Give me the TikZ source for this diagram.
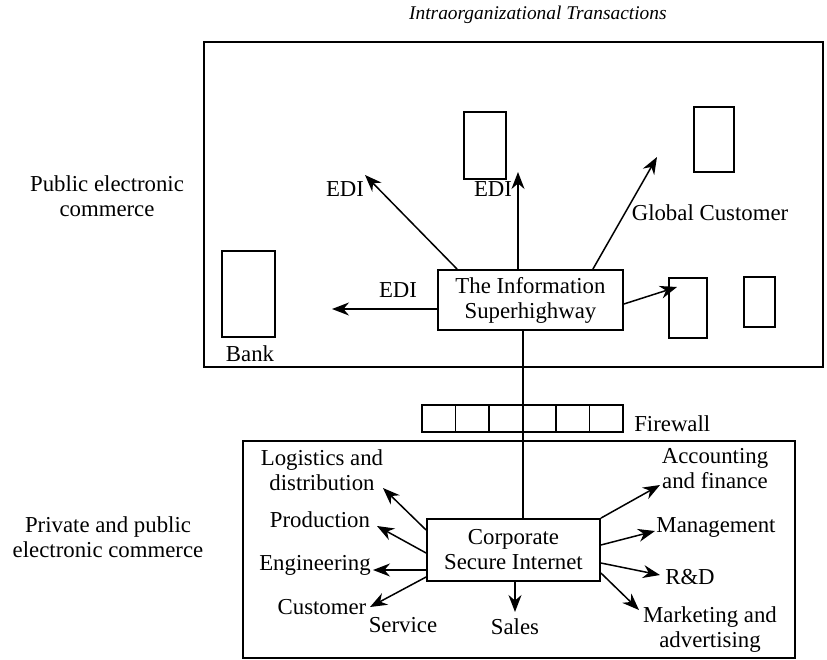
\documentclass[tikz,border=0pt]{standalone}
\usepackage{fontspec}
\setmainfont{Liberation Serif}
\usetikzlibrary{arrows.meta}

\begin{document}
\begin{tikzpicture}[x=.5pt,y=-.5pt,>={Stealth[length=8.5pt,width=6.5pt]},
 every node/.style={font=\fontsize{11.4}{12.5}\selectfont,inner sep=0pt,align=center},
 frame/.style={draw,line width=.9pt},
 site/.style={draw,line width=.9pt},
 box/.style={draw,line width=.9pt,fill=white},
 arr/.style={->,line width=.75pt}]
\useasboundingbox (0,0) rectangle (827,660);
\node[font=\fontsize{9.7}{11}\selectfont\itshape,anchor=east] (title) at (667,15) {Intraorganizational Transactions};
\node[frame,minimum width=309.5pt,minimum height=162.5pt] (pub) at (513.5,204.5) {};
\node (publbl) at (107,196) {Public electronic\\commerce};
\node[site,minimum width=26.5pt,minimum height=43pt] (bank) at (248.5,294) {};
\node (banklbl) at (250,354) {Bank};
\node[site,minimum width=21pt,minimum height=33.5pt] (edisite) at (485,145.5) {};
\node[site,minimum width=20pt,minimum height=32.5pt] (glob) at (714,139.5) {};
\node[site,minimum width=19pt,minimum height=30pt] (site1) at (688,308) {};
\node[site,minimum width=15.5pt,minimum height=25pt] (site2) at (759.5,302) {};
\node[box,minimum width=92.5pt,minimum height=30pt] (hwy) at (530.5,300) {The Information\\Superhighway};
\coordinate (tipl) at (332,309);
\coordinate (tipul) at (365,175);
\coordinate (tipu) at (518,172);
\coordinate (tipur) at (657,157);
\coordinate (tipr) at (677,287);
\node (edil) at (398,290) {EDI};
\node (ediul) at (345,189) {EDI};
\node (ediu) at (493,189) {EDI};
\node (globlbl) at (710,213) {Global Customer};
\draw[arr] (hwy.west |- tipl) -- (tipl);
\draw[arr] ([xshift=10pt]hwy.north west) -- (tipul);
\draw[arr] (hwy.north -| tipu) -- (tipu);
\draw[arr] ([xshift=-15.5pt]hwy.north east) -- (tipur);
\draw[arr] ([yshift=-2pt]hwy.east) -- (tipr);
\foreach \i in {1,...,6}
 \node[site,minimum width=16.75pt,minimum height=13.5pt] (fw\i) at ({422+33.5*(\i-.5)},418.5) {};
\node[anchor=west] (fwlbl) at ([xshift=5pt,yshift=-2.75pt]fw6.east) {Firewall};
\node[frame,minimum width=276pt,minimum height=108.5pt] (priv) at (519,549.5) {};
\node (privlbl) at (108,537) {Private and public\\electronic commerce};
\node[box,minimum width=86.5pt,minimum height=31pt] (corp) at (513.5,550) {Corporate\\Secure Internet};
\draw[line width=.75pt] ([xshift=-3.75pt]hwy.south) -- ([xshift=-3.75pt]hwy.south |- corp.north);
\coordinate (tiplog) at (383,488);
\coordinate (tipprod) at (377,526);
\coordinate (tipeng) at (373,570);
\coordinate (tipcust) at (370,607);
\coordinate (tipsales) at (515,612);
\coordinate (tipacc) at (660,485);
\coordinate (tipman) at (655,531);
\coordinate (tiprd) at (660,575);
\coordinate (tipmkt) at (639,610);
\node (loglbl) at (322,470) {Logistics and\\distribution};
\node (prodlbl) at (320,520) {Production};
\node (englbl) at (315,565) {Engineering};
\node (custlbl) at (322,607) {Customer};
\node (servlbl) at (403,625) {Service};
\node (saleslbl) at (515,627) {Sales};
\node (acclbl) at (715,468.5) {Accounting\\and finance};
\node (manlbl) at (716,527) {Management};
\node (rdlbl) at (690,577) {R\&D};
\node (mktlbl) at (710,630) {Marketing and\\advertising};
\draw[arr] ([yshift=10pt]corp.west) -- (tiplog);
\draw[arr] ([yshift=-1.5pt]corp.west) -- (tipprod);
\draw[arr] (corp.west |- tipeng) -- (tipeng);
\draw[arr] ([yshift=-13.5pt]corp.west) -- (tipcust);
\draw[arr] (corp.south -| tipsales) -- (tipsales);
\draw[arr] (corp.north east) -- (tipacc);
\draw[arr] ([yshift=2.5pt]corp.east) -- (tipman);
\draw[arr] ([yshift=-6.5pt]corp.east) -- (tiprd);
\draw[arr] ([yshift=-11.5pt]corp.east) -- (tipmkt);
\end{tikzpicture}
\end{document}
